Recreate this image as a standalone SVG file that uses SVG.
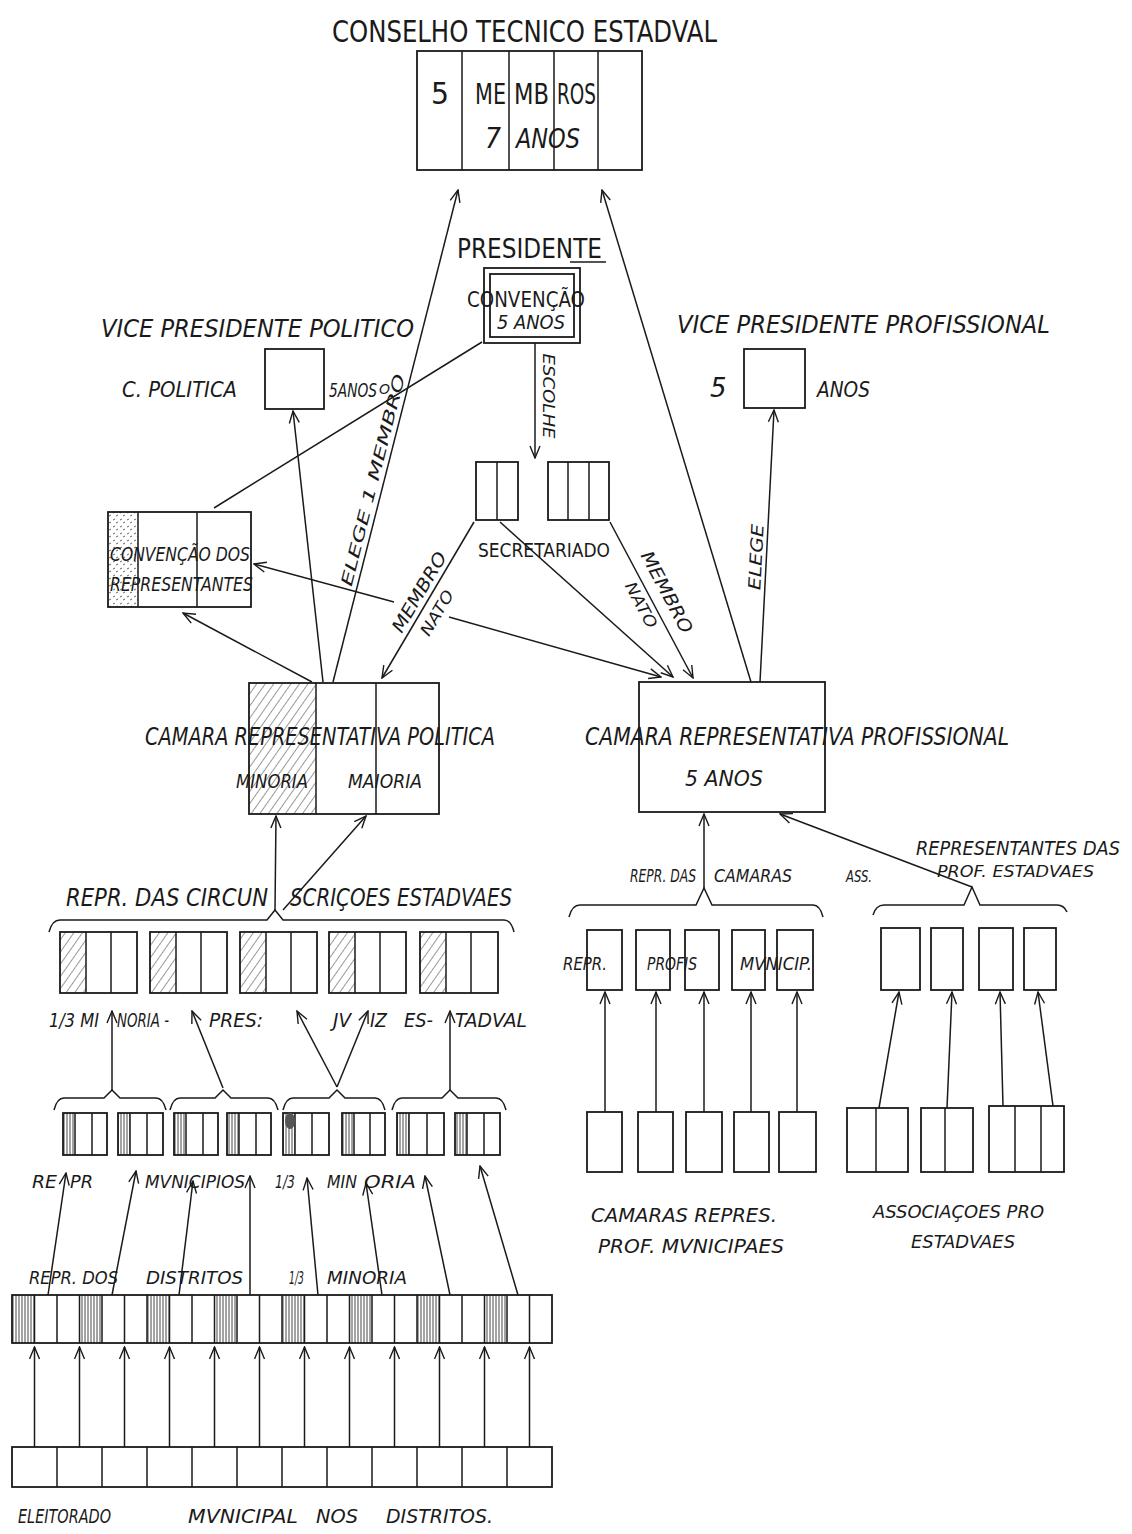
<svg xmlns="http://www.w3.org/2000/svg" width="1132" height="1534" viewBox="0 0 1132 1534">
<style>
.bg{fill:#fff}
.bx{fill:none;stroke:#1a1a1a;stroke-width:1.8}
.ln{fill:none;stroke:#1a1a1a;stroke-width:1.5}
.ar{fill:none;stroke:#1a1a1a;stroke-width:1.5;marker-end:url(#ah)}
.t{font-family:"DejaVu Sans","Liberation Sans",sans-serif;fill:#1a1a1a}
.i{font-style:italic}
</style>
<defs>
<marker id="ah" viewBox="0 0 14 12" refX="13" refY="6" markerWidth="14" markerHeight="12" markerUnits="userSpaceOnUse" orient="auto">
<path d="M1,1 L13,6 L1,11" fill="none" stroke="#1a1a1a" stroke-width="1.4"/>
</marker>
<pattern id="diag" patternUnits="userSpaceOnUse" width="7" height="7" patternTransform="rotate(35)">
<line x1="0" y1="0" x2="0" y2="7" stroke="#333" stroke-width="1"/>
</pattern>
<pattern id="vert" patternUnits="userSpaceOnUse" width="3" height="10">
<line x1="1" y1="0" x2="1" y2="10" stroke="#333" stroke-width="0.9"/>
</pattern>
<pattern id="stip" patternUnits="userSpaceOnUse" width="7" height="7">
<path d="M1,2 l2,-1 M4,5 l2,-1" stroke="#555" stroke-width="0.9"/>
</pattern>
</defs>
<rect class="bg" x="0" y="0" width="1132" height="1534"/>

<g id="conselho">
<text class="t" x="332" y="42" font-size="30" textLength="385" lengthAdjust="spacingAndGlyphs">CONSELHO TECNICO ESTADVAL</text>
<rect class="bx" x="417" y="51" width="225" height="119"/>
<path class="ln" d="M462,51V170M509,51V170M554,51V170M598,51V170"/>
<text class="t" x="431" y="104" font-size="30" textLength="18" lengthAdjust="spacingAndGlyphs">5</text>
<text class="t" x="475" y="104" font-size="28" textLength="31" lengthAdjust="spacingAndGlyphs">ME</text>
<text class="t" x="514" y="104" font-size="28" textLength="35" lengthAdjust="spacingAndGlyphs">MB</text>
<text class="t" x="557" y="104" font-size="28" textLength="39" lengthAdjust="spacingAndGlyphs">ROS</text>
<text class="t i" x="485" y="148" font-size="28" textLength="16" lengthAdjust="spacingAndGlyphs">7</text>
<text class="t i" x="516" y="148" font-size="26" textLength="64" lengthAdjust="spacingAndGlyphs">ANOS</text>
</g>

<g id="presidente">
<text class="t" x="457" y="258" font-size="26" textLength="145" lengthAdjust="spacingAndGlyphs">PRESIDENTE</text>
<path class="ln" d="M570,262H606" stroke-width="1.2"/>
<rect class="bx" x="484" y="268" width="96" height="75"/>
<rect class="bx" x="490" y="274" width="84" height="63" stroke-width="1.3"/>
<text class="t" x="467" y="307" font-size="21" textLength="118" lengthAdjust="spacingAndGlyphs">CONVENÇÃO</text>
<text class="t i" x="497" y="329" font-size="19" textLength="68" lengthAdjust="spacingAndGlyphs">5 ANOS</text>
</g>

<g id="vp-politico">
<text class="t i" x="101" y="337" font-size="24" textLength="313" lengthAdjust="spacingAndGlyphs">VICE PRESIDENTE POLITICO</text>
<rect class="bx" x="265" y="349" width="59" height="60"/>
<text class="t i" x="122" y="397" font-size="22" textLength="115" lengthAdjust="spacingAndGlyphs">C. POLITICA</text>
<text class="t i" x="329" y="397" font-size="19" textLength="48" lengthAdjust="spacingAndGlyphs">5ANOS</text>
<text class="t i" x="379" y="394" font-size="14">O</text>
</g>

<g id="vp-profissional">
<text class="t i" x="677" y="333" font-size="24" textLength="373" lengthAdjust="spacingAndGlyphs">VICE PRESIDENTE PROFISSIONAL</text>
<rect class="bx" x="744" y="349" width="61" height="59"/>
<text class="t i" x="710" y="397" font-size="26">5</text>
<text class="t i" x="817" y="397" font-size="22" textLength="53" lengthAdjust="spacingAndGlyphs">ANOS</text>
</g>

<g id="secretariado">
<rect class="bx" x="476" y="462" width="42" height="58"/>
<path class="ln" d="M497,462V520"/>
<rect class="bx" x="548" y="462" width="61" height="58"/>
<path class="ln" d="M568,462V520M589,462V520"/>
<text class="t" x="478" y="557" font-size="20" textLength="132" lengthAdjust="spacingAndGlyphs">SECRETARIADO</text>
</g>

<g id="convencao-representantes">
<rect x="108" y="512" width="30" height="95" fill="url(#stip)"/>
<rect class="bx" x="108" y="512" width="143" height="95"/>
<path class="ln" d="M138,512V607M197,512V607"/>
<text class="t i" x="110" y="561" font-size="19" textLength="140" lengthAdjust="spacingAndGlyphs">CONVENÇÃO DOS</text>
<text class="t i" x="110" y="591" font-size="19" textLength="143" lengthAdjust="spacingAndGlyphs">REPRESENTANTES</text>
</g>

<g id="camara-politica">
<rect x="249" y="683" width="67" height="131" fill="url(#diag)"/>
<rect class="bx" x="249" y="683" width="190" height="131"/>
<path class="ln" d="M316,683V814M376,683V814"/>
<text class="t i" x="145" y="745" font-size="24" textLength="350" lengthAdjust="spacingAndGlyphs">CAMARA REPRESENTATIVA POLITICA</text>
<text class="t i" x="236" y="788" font-size="19" textLength="72" lengthAdjust="spacingAndGlyphs">MINORIA</text>
<text class="t i" x="348" y="788" font-size="19" textLength="74" lengthAdjust="spacingAndGlyphs">MAIORIA</text>
</g>

<g id="camara-profissional">
<rect class="bx" x="639" y="682" width="186" height="130"/>
<text class="t i" x="585" y="745" font-size="24" textLength="424" lengthAdjust="spacingAndGlyphs">CAMARA REPRESENTATIVA PROFISSIONAL</text>
<text class="t i" x="685" y="786" font-size="22" textLength="78" lengthAdjust="spacingAndGlyphs">5 ANOS</text>
</g>

<g id="circunscricoes">
<text class="t i" x="66" y="906" font-size="24" textLength="202" lengthAdjust="spacingAndGlyphs">REPR. DAS CIRCUN</text>
<text class="t i" x="290" y="906" font-size="24" textLength="222" lengthAdjust="spacingAndGlyphs">SCRIÇOES ESTADVAES</text>
<path class="ln" d="M49,932Q52,920 60,920L267,920L275,910L283,920L504,920Q511,920 514,932"/>
<rect x="60" y="932" width="26" height="61" fill="url(#diag)"/>
<rect class="bx" x="60" y="932" width="77" height="61"/>
<path class="ln" d="M86,932V993M111,932V993"/>
<rect x="150" y="932" width="26" height="61" fill="url(#diag)"/>
<rect class="bx" x="150" y="932" width="77" height="61"/>
<path class="ln" d="M176,932V993M201,932V993"/>
<rect x="240" y="932" width="26" height="61" fill="url(#diag)"/>
<rect class="bx" x="240" y="932" width="77" height="61"/>
<path class="ln" d="M266,932V993M291,932V993"/>
<rect x="329" y="932" width="26" height="61" fill="url(#diag)"/>
<rect class="bx" x="329" y="932" width="77" height="61"/>
<path class="ln" d="M355,932V993M380,932V993"/>
<rect x="420" y="932" width="26" height="61" fill="url(#diag)"/>
<rect class="bx" x="420" y="932" width="78" height="61"/>
<path class="ln" d="M446,932V993M471,932V993"/>
<g class="t i" font-size="19">
<text x="49" y="1027" textLength="50" lengthAdjust="spacingAndGlyphs">1/3 MI</text>
<text x="117" y="1027" textLength="52" lengthAdjust="spacingAndGlyphs">NORIA -</text>
<text x="209" y="1027" textLength="54" lengthAdjust="spacingAndGlyphs">PRES:</text>
<text x="333" y="1027" textLength="18" lengthAdjust="spacingAndGlyphs">JV</text>
<text x="370" y="1027" textLength="17" lengthAdjust="spacingAndGlyphs">IZ</text>
<text x="404" y="1027" textLength="29" lengthAdjust="spacingAndGlyphs">ES-</text>
<text x="455" y="1027" textLength="72" lengthAdjust="spacingAndGlyphs">TADVAL</text>
</g>
</g>

<g id="municipios">
<path class="ln" d="M54,1110Q57,1098 64,1098L104,1098L112,1090L120,1098L156,1098Q163,1098 166,1110"/>
<path class="ln" d="M170,1110Q173,1098 180,1098L215,1098L223,1090L231,1098L268,1098Q275,1098 278,1110"/>
<path class="ln" d="M283,1110Q286,1098 293,1098L329,1098L337,1090L345,1098L375,1098Q382,1098 385,1110" stroke-width="2"/>
<path class="ln" d="M392,1110Q395,1098 402,1098L442,1098L450,1090L458,1098L496,1098Q503,1098 506,1110"/>
<g>
<rect x="63" y="1113" width="12" height="42" fill="url(#vert)"/><rect class="bx" x="63" y="1113" width="44" height="42"/><path class="ln" d="M75,1113V1155M92,1113V1155"/>
<rect x="118" y="1113" width="12" height="42" fill="url(#vert)"/><rect class="bx" x="118" y="1113" width="45" height="42"/><path class="ln" d="M130,1113V1155M147,1113V1155"/>
<rect x="174" y="1113" width="12" height="42" fill="url(#vert)"/><rect class="bx" x="174" y="1113" width="44" height="42"/><path class="ln" d="M186,1113V1155M203,1113V1155"/>
<rect x="227" y="1113" width="12" height="42" fill="url(#vert)"/><rect class="bx" x="227" y="1113" width="44" height="42"/><path class="ln" d="M239,1113V1155M256,1113V1155"/>
<rect x="283" y="1113" width="12" height="42" fill="url(#vert)"/><rect class="bx" x="283" y="1113" width="46" height="42"/><path class="ln" d="M295,1113V1155M312,1113V1155"/>
<ellipse cx="290" cy="1121" rx="5" ry="8" fill="#555"/>
<rect x="342" y="1113" width="12" height="42" fill="url(#vert)"/><rect class="bx" x="342" y="1113" width="43" height="42"/><path class="ln" d="M354,1113V1155M370,1113V1155"/>
<rect x="397" y="1113" width="12" height="42" fill="url(#vert)"/><rect class="bx" x="397" y="1113" width="47" height="42"/><path class="ln" d="M409,1113V1155M427,1113V1155"/>
<rect x="455" y="1113" width="12" height="42" fill="url(#vert)"/><rect class="bx" x="455" y="1113" width="45" height="42"/><path class="ln" d="M467,1113V1155M484,1113V1155"/>
</g>
<g class="t i" font-size="18">
<text x="32" y="1188" textLength="25" lengthAdjust="spacingAndGlyphs">RE</text>
<text x="70" y="1188" textLength="23" lengthAdjust="spacingAndGlyphs">PR</text>
<text x="145" y="1188" textLength="100" lengthAdjust="spacingAndGlyphs">MVNICIPIOS</text>
<text x="275" y="1188" textLength="20" lengthAdjust="spacingAndGlyphs">1/3</text>
<text x="327" y="1188" textLength="30" lengthAdjust="spacingAndGlyphs">MIN</text>
<text x="364" y="1188" textLength="52" lengthAdjust="spacingAndGlyphs">ORIA</text>
</g>
</g>

<g id="distritos">
<g class="t i" font-size="17">
<text x="29" y="1284" textLength="89" lengthAdjust="spacingAndGlyphs">REPR. DOS</text>
<text x="146" y="1284" textLength="97" lengthAdjust="spacingAndGlyphs">DISTRITOS</text>
<text x="289" y="1284" textLength="15" lengthAdjust="spacingAndGlyphs">1/3</text>
<text x="327" y="1284" textLength="80" lengthAdjust="spacingAndGlyphs">MINORIA</text>
</g>
<rect x="12" y="1295" width="22.5" height="48" fill="url(#vert)"/>
<rect x="79.5" y="1295" width="22.5" height="48" fill="url(#vert)"/>
<rect x="147" y="1295" width="22.5" height="48" fill="url(#vert)"/>
<rect x="214.5" y="1295" width="22.5" height="48" fill="url(#vert)"/>
<rect x="282" y="1295" width="22.5" height="48" fill="url(#vert)"/>
<rect x="349.5" y="1295" width="22.5" height="48" fill="url(#vert)"/>
<rect x="417" y="1295" width="22.5" height="48" fill="url(#vert)"/>
<rect x="484.5" y="1295" width="22.5" height="48" fill="url(#vert)"/>
<rect class="bx" x="12" y="1295" width="540" height="48"/>
<path class="ln" d="M34.5,1295V1343M57,1295V1343M79.5,1295V1343M102,1295V1343M124.5,1295V1343M147,1295V1343M169.5,1295V1343M192,1295V1343M214.5,1295V1343M237,1295V1343M259.5,1295V1343M282,1295V1343M304.5,1295V1343M327,1295V1343M349.5,1295V1343M372,1295V1343M394.5,1295V1343M417,1295V1343M439.5,1295V1343M462,1295V1343M484.5,1295V1343M507,1295V1343M529.5,1295V1343"/>
</g>

<g id="eleitorado">
<rect class="bx" x="12" y="1447" width="540" height="40"/>
<path class="ln" d="M57,1447V1487M102,1447V1487M147,1447V1487M192,1447V1487M237,1447V1487M282,1447V1487M327,1447V1487M372,1447V1487M417,1447V1487M462,1447V1487M507,1447V1487"/>
<g class="t i" font-size="20">
<text x="18" y="1523" textLength="93" lengthAdjust="spacingAndGlyphs">ELEITORADO</text>
<text x="188" y="1523" textLength="110" lengthAdjust="spacingAndGlyphs">MVNICIPAL</text>
<text x="316" y="1523" textLength="42" lengthAdjust="spacingAndGlyphs">NOS</text>
<text x="386" y="1523" textLength="107" lengthAdjust="spacingAndGlyphs">DISTRITOS.</text>
</g>
</g>

<g id="camaras-repr">
<text class="t i" x="630" y="882" font-size="17" textLength="66" lengthAdjust="spacingAndGlyphs">REPR. DAS</text>
<text class="t i" x="714" y="882" font-size="17" textLength="78" lengthAdjust="spacingAndGlyphs">CAMARAS</text>
<path class="ln" d="M569,917Q572,905 580,905L696,905L704,888L712,905L813,905Q820,905 823,917"/>
<rect class="bx" x="587" y="930" width="35" height="60"/>
<rect class="bx" x="636" y="930" width="34" height="60"/>
<rect class="bx" x="685" y="930" width="34" height="60"/>
<rect class="bx" x="732" y="930" width="33" height="60"/>
<rect class="bx" x="777" y="930" width="36" height="60"/>
<g class="t i" font-size="17">
<text x="563" y="970" textLength="44" lengthAdjust="spacingAndGlyphs">REPR.</text>
<text x="647" y="970" textLength="50" lengthAdjust="spacingAndGlyphs">PROFIS</text>
<text x="740" y="970" textLength="72" lengthAdjust="spacingAndGlyphs">MVNICIP.</text>
</g>
</g>

<g id="camaras-municipaes">
<rect class="bx" x="587" y="1112" width="35" height="60"/>
<rect class="bx" x="638" y="1112" width="35" height="60"/>
<rect class="bx" x="686" y="1112" width="36" height="60"/>
<rect class="bx" x="734" y="1112" width="35" height="60"/>
<rect class="bx" x="779" y="1112" width="37" height="60"/>
<text class="t i" x="591" y="1222" font-size="19" textLength="186" lengthAdjust="spacingAndGlyphs">CAMARAS REPRES.</text>
<text class="t i" x="598" y="1253" font-size="19" textLength="186" lengthAdjust="spacingAndGlyphs">PROF. MVNICIPAES</text>
</g>

<g id="representantes-prof">
<text class="t i" x="916" y="855" font-size="19" textLength="204" lengthAdjust="spacingAndGlyphs">REPRESENTANTES DAS</text>
<text class="t i" x="937" y="877" font-size="16" textLength="157" lengthAdjust="spacingAndGlyphs">PROF. ESTADVAES</text>
<text class="t i" x="846" y="882" font-size="16" textLength="26" lengthAdjust="spacingAndGlyphs">ASS.</text>
<path class="ln" d="M873,915Q876,905 884,905L964,905L972,887L980,905L1057,905Q1064,905 1067,912"/>
<rect class="bx" x="881" y="928" width="39" height="62"/>
<rect class="bx" x="931" y="928" width="32" height="62"/>
<rect class="bx" x="979" y="928" width="34" height="62"/>
<rect class="bx" x="1024" y="928" width="32" height="62"/>
</g>

<g id="associacoes">
<rect class="bx" x="847" y="1108" width="61" height="64"/>
<path class="ln" d="M876,1108V1172"/>
<rect class="bx" x="921" y="1108" width="52" height="64"/>
<path class="ln" d="M945,1108V1172"/>
<rect class="bx" x="989" y="1106" width="75" height="66"/>
<path class="ln" d="M1015,1106V1172M1041,1106V1172"/>
<text class="t i" x="873" y="1218" font-size="17" textLength="171" lengthAdjust="spacingAndGlyphs">ASSOCIAÇOES PRO</text>
<text class="t i" x="911" y="1248" font-size="17" textLength="104" lengthAdjust="spacingAndGlyphs">ESTADVAES</text>
</g>

<g id="connectors">
<path class="ar" d="M333,682L458,190"/>
<path class="ar" d="M751,682L602,190"/>
<path class="ar" d="M323,682L293,411"/>
<path class="ar" d="M760,682L774,410"/>
<path class="ln" d="M482,342L214,508"/>
<path class="ar" d="M535,343L535,458"/>
<path class="ar" d="M474,522L382,678"/>
<path class="ar" d="M500,522L673,677"/>
<path class="ar" d="M610,522L693,678"/>
<path class="ar" d="M394,602L254,564"/>
<path class="ar" d="M449,617L661,677"/>
<path class="ar" d="M312,682L183,613"/>
<path class="ar" d="M275,910L276,816"/>
<path class="ar" d="M283,910L366,816"/>
<path class="ar" d="M704,888L704,814"/>
<path class="ar" d="M972,887L780,814" stroke-width="2.4"/>
<path class="ar" d="M112,1090L112,1011"/>
<path class="ar" d="M223,1088L192,1011"/>
<path class="ar" d="M337,1087L297,1011"/>
<path class="ar" d="M337,1087L368,1011"/>
<path class="ar" d="M450,1090L450,1011"/>
<path class="ar" d="M48,1295L66,1173"/>
<path class="ar" d="M112,1295L136,1171"/>
<path class="ar" d="M179,1295L193,1181"/>
<path class="ar" d="M250,1295L250,1176"/>
<path class="ar" d="M318,1295L307,1178"/>
<path class="ar" d="M382,1295L366,1183"/>
<path class="ar" d="M450,1295L425,1176"/>
<path class="ar" d="M518,1295L480,1166"/>
<path class="ar" d="M34.5,1447V1347"/>
<path class="ar" d="M79.5,1447V1347"/>
<path class="ar" d="M124.5,1447V1347"/>
<path class="ar" d="M169.5,1447V1347"/>
<path class="ar" d="M214.5,1447V1347"/>
<path class="ar" d="M259.5,1447V1347"/>
<path class="ar" d="M304.5,1447V1347"/>
<path class="ar" d="M349.5,1447V1347"/>
<path class="ar" d="M394.5,1447V1347"/>
<path class="ar" d="M439.5,1447V1347"/>
<path class="ar" d="M484.5,1447V1347"/>
<path class="ar" d="M529.5,1447V1347"/>
<path class="ar" d="M605,1112V992"/>
<path class="ar" d="M656,1112V992"/>
<path class="ar" d="M704,1112V992"/>
<path class="ar" d="M751,1112V992"/>
<path class="ar" d="M797,1112V992"/>
<path class="ar" d="M879,1108L899,992"/>
<path class="ar" d="M947,1108L952,992"/>
<path class="ar" d="M1003,1106L1000,992"/>
<path class="ar" d="M1053,1106L1038,992"/>
<g class="t i" text-anchor="middle" dominant-baseline="central">
<text font-size="16" textLength="218" lengthAdjust="spacingAndGlyphs" transform="translate(373,480) rotate(-75.7)">ELEGE 1 MEMBRO</text>
<text font-size="16" textLength="85" lengthAdjust="spacingAndGlyphs" transform="translate(548,396) rotate(90)">ESCOLHE</text>
<text font-size="17" textLength="66" lengthAdjust="spacingAndGlyphs" transform="translate(756,557) rotate(-87)">ELEGE</text>
<text font-size="18" textLength="90" lengthAdjust="spacingAndGlyphs" transform="translate(419,592) rotate(-59.5)">MEMBRO</text>
<text font-size="16" textLength="50" lengthAdjust="spacingAndGlyphs" transform="translate(437,613) rotate(-59.5)">NATO</text>
<text font-size="18" textLength="90" lengthAdjust="spacingAndGlyphs" transform="translate(667,592) rotate(62)">MEMBRO</text>
<text font-size="16" textLength="50" lengthAdjust="spacingAndGlyphs" transform="translate(641,605) rotate(62)">NATO</text>
</g>
</g>
</svg>
